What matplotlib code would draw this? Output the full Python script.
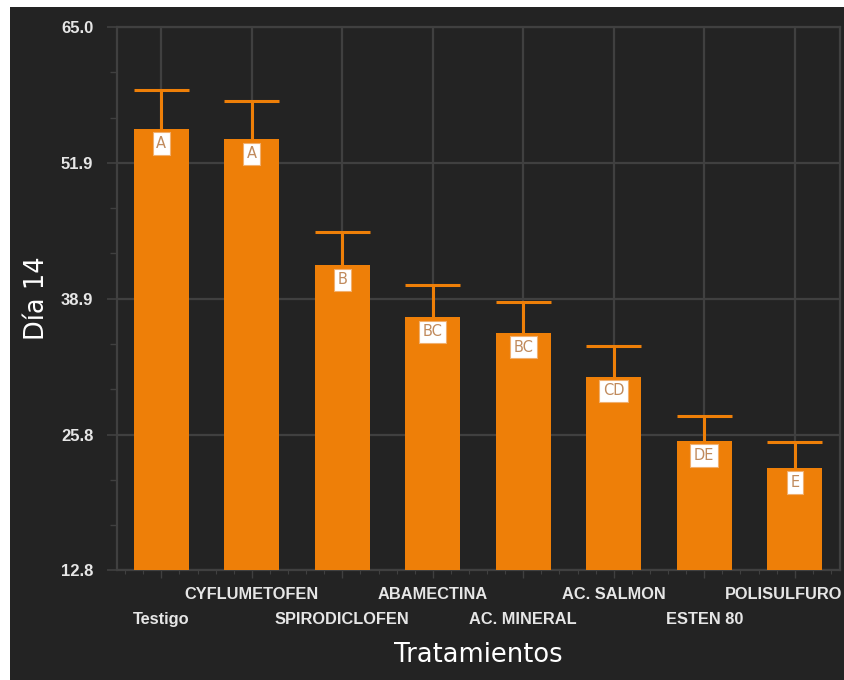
import matplotlib
matplotlib.use("Agg")
import matplotlib.pyplot as plt
from matplotlib.ticker import FixedLocator, MultipleLocator
import numpy as np

# Treatment means (day 14), upper error and Tukey letters
tratamientos = ["Testigo", "CYFLUMETOFEN", "SPIRODICLOFEN", "ABAMECTINA",
                "AC. MINERAL", "AC. SALMON", "ESTEN 80", "POLISULFURO"]
medias = [55.2, 54.2, 42.1, 37.1, 35.6, 31.4, 25.2, 22.6]
error_sup = [3.7, 3.7, 3.2, 3.1, 3.0, 2.9, 2.4, 2.5]
letras = ["A", "A", "B", "BC", "BC", "CD", "DE", "E"]
y_ticks = [12.8, 25.8, 38.9, 51.9, 65.0]

BG = "#232323"
ORANGE = "#EE7F08"
GRID = "#404040"
TXT = "#e6e6e6"

W, H = 844, 680
fig = plt.figure(figsize=(W / 100, H / 100), dpi=100, facecolor="white")

# dark panel behind the chart
bg_ax = fig.add_axes([10 / W, 0, (W - 10) / W, (H - 7) / H], zorder=-1)
bg_ax.set_axis_off()
bg_ax.add_patch(plt.Rectangle((0, 0), 1, 1, transform=bg_ax.transAxes,
                              facecolor=BG, edgecolor="none"))

left, right, top, bottom = 117, 840, 27, 570
ax = fig.add_axes([left / W, 1 - bottom / H, (right - left) / W, (bottom - top) / H])
ax.set_facecolor(BG)

x = np.arange(len(tratamientos))
bw = 0.61
ax.bar(x, medias, width=bw, color=ORANGE, zorder=3)
tops = np.array(medias) + np.array(error_sup)
ax.vlines(x, medias, tops, color=ORANGE, lw=2.2, zorder=3)
ax.hlines(tops, x - bw / 2, x + bw / 2, color=ORANGE, lw=2.2, zorder=3)

for xi, m, l in zip(x, medias, letras):
    ax.annotate(l, (xi, m), xytext=(0, -5), textcoords="offset points",
                ha="center", va="top", fontsize=10.5, color="#c08a5c",
                family="DejaVu Sans", zorder=5,
                bbox=dict(boxstyle="square,pad=0.25", facecolor="white",
                          edgecolor="#f0b070", lw=0.8))

ax.set_xlim(-0.49, 7.5)
ax.set_ylim(12.8, 65.0)
ax.yaxis.set_major_locator(FixedLocator(y_ticks))
ax.yaxis.set_minor_locator(FixedLocator(
    [a + (b - a) * k / 3 for a, b in zip(y_ticks[:-1], y_ticks[1:]) for k in (1, 2)]))
ax.set_yticklabels([f"{v:.1f}" for v in y_ticks])
ax.set_xticks(x)
ax.set_xticklabels([])
ax.xaxis.set_minor_locator(MultipleLocator(0.2))

ax.grid(True, which="major", color=GRID, lw=1.6, zorder=0)
for s in ax.spines.values():
    s.set_color(GRID)
    s.set_linewidth(1.6)

ax.tick_params(axis="y", which="major", length=7, width=1.2, color=GRID,
               labelcolor=TXT, labelsize=12, pad=10)
ax.tick_params(axis="y", which="minor", length=5, width=1.0, color=GRID)
ax.tick_params(axis="x", which="major", length=6, width=1.0, color=GRID)
ax.tick_params(axis="x", which="minor", length=3, width=0.8, color=GRID)
for lab in ax.get_yticklabels():
    lab.set_fontweight("bold")
    lab.set_family("Liberation Sans")

# staggered category labels; the last one is pulled in to stay on the canvas
for xi, name in zip(x, tratamientos):
    row_y = 594 if xi % 2 == 1 else 619
    shift = -8 if xi == len(tratamientos) - 1 else 0
    ax.annotate(name, (xi, 1 - (row_y - top) / (bottom - top)),
                xycoords=ax.get_xaxis_transform(), xytext=(shift, 0),
                textcoords="offset points", ha="center", va="center",
                fontsize=11.8, fontweight="bold", color=TXT,
                family="Liberation Sans", annotation_clip=False)

ax.text(0.5, 1 - (655 - top) / (bottom - top), "Tratamientos",
        transform=ax.transAxes, ha="center", va="center",
        fontsize=18.5, color="white")
fig.text(37 / W, 1 - 298 / H, "Día 14", rotation=90, ha="center",
         va="center", fontsize=18.5, color="white")

fig.savefig("out.png", dpi=100, facecolor="white")
